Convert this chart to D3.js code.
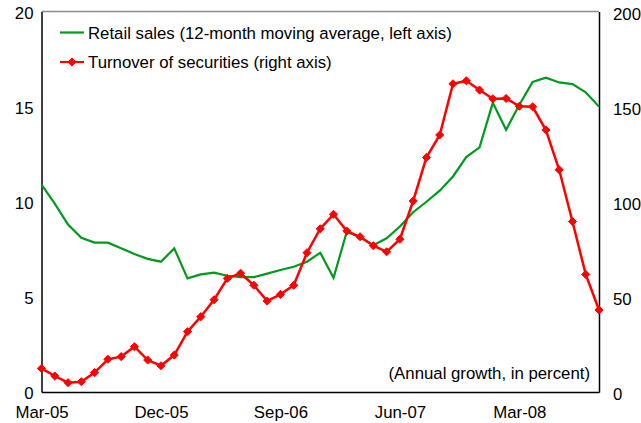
<!DOCTYPE html>
<html>
<head>
<meta charset="utf-8">
<script src="https://cdn.jsdelivr.net/npm/d3@7"></script>
<style>
  body { margin: 0; background: #fff; }
  svg text { font-family: "Liberation Sans", Arial, sans-serif; fill: #000; }
</style>
</head>
<body>
<div id="wrapper"></div>
<script>
// monthly categories, Mar-05 .. Sep-08
const months = [
  "Mar-05","Apr-05","May-05","Jun-05","Jul-05","Aug-05","Sep-05","Oct-05","Nov-05","Dec-05",
  "Jan-06","Feb-06","Mar-06","Apr-06","May-06","Jun-06","Jul-06","Aug-06","Sep-06","Oct-06",
  "Nov-06","Dec-06","Jan-07","Feb-07","Mar-07","Apr-07","May-07","Jun-07","Jul-07","Aug-07",
  "Sep-07","Oct-07","Nov-07","Dec-07","Jan-08","Feb-08","Mar-08","Apr-08","May-08","Jun-08",
  "Jul-08","Aug-08","Sep-08"
];
const xTickLabels = ["Mar-05","Dec-05","Sep-06","Jun-07","Mar-08"];

// retail sales, 12-month moving average (left axis)
const retailSales = [
  10.9, 9.9, 8.8, 8.1, 7.85, 7.85, 7.55, 7.25, 7.0, 6.85,
  7.55, 5.97, 6.18, 6.27, 6.11, 6.04, 6.04, 6.22, 6.41, 6.58,
  6.85, 7.32, 6.0, 8.42, 8.14, 7.72, 8.08, 8.7, 9.45, 10.0,
  10.58, 11.33, 12.35, 12.86, 15.2, 13.78, 15.1, 16.3, 16.52, 16.27,
  16.18, 15.75, 15.0
];
// turnover of securities (right axis)
const turnover = [
  12.4, 8.4, 4.9, 5.4, 10.2, 17.2, 18.6, 23.8, 16.8, 13.8,
  19.4, 31.7, 39.6, 48.5, 59.7, 62.4, 56.1, 47.8, 51.3, 56.1,
  73.2, 85.8, 93.4, 84.6, 81.6, 76.9, 73.7, 80.3, 100.4, 123.3,
  135.1, 162.0, 163.6, 158.7, 154.1, 154.3, 150.2, 149.9, 137.7, 116.8,
  89.6, 61.8, 43.1
];
const leftTicks = [0, 5, 10, 15, 20];
const rightTicks = [0, 50, 100, 150, 200];

const fontSize = "16.8px";

let dimensions = {
  width: 641,
  height: 423,
  margin: { top: 11.5, left: 41.5, bottom: 31, right: 42 }
};
dimensions.boundedWidth = dimensions.width - dimensions.margin.left - dimensions.margin.right;
dimensions.boundedHeight = dimensions.height - dimensions.margin.top - dimensions.margin.bottom;

const wrapper = d3.select("#wrapper").append("svg")
  .attr("width", dimensions.width)
  .attr("height", dimensions.height);
const container = wrapper.append("g")
  .attr("transform", `translate(${dimensions.margin.left},${dimensions.margin.top})`);

const xScale = d3.scaleLinear()
  .domain([0, months.length - 1])
  .range([0, dimensions.boundedWidth]);
const yLeft = d3.scaleLinear().domain([0, 20]).range([dimensions.boundedHeight, 0]);
const yRight = d3.scaleLinear().domain([0, 200]).range([dimensions.boundedHeight, 0]);

// frame: grey top, black sides and bottom
container.append("line")
  .attr("x1", 0).attr("x2", dimensions.boundedWidth)
  .attr("y1", 0).attr("y2", 0)
  .attr("stroke", "#8c8c8c").attr("stroke-width", 1.5);

const xAxisGen = d3.axisBottom(xScale)
  .tickValues(xTickLabels.map(l => months.indexOf(l)))
  .tickFormat(i => months[i])
  .tickSize(0).tickPadding(13);
const axisX = container.append("g")
  .attr("transform", `translate(0,${dimensions.boundedHeight})`)
  .call(xAxisGen);

const yAxisGen = d3.axisLeft(yLeft).tickValues(leftTicks).tickSize(0).tickPadding(8);
const axisY = container.append("g").call(yAxisGen);

const yAxisGenR = d3.axisRight(yRight).tickValues(rightTicks).tickSize(0).tickPadding(14);
const axisYR = container.append("g")
  .attr("transform", `translate(${dimensions.boundedWidth},0)`)
  .call(yAxisGenR);

[axisX, axisY, axisYR].forEach(a => {
  a.select(".domain").attr("stroke", "#000").attr("stroke-width", 1.5);
  a.selectAll("text").style("font-size", fontSize).attr("fill", "#000");
});
axisX.selectAll("text").attr("dy", "0.8em");
axisY.selectAll("text").attr("dy", "0.4em");
axisYR.selectAll("text").attr("dy", "0.45em");

// lines
const greenLine = d3.line()
  .x((d, i) => xScale(i))
  .y(d => yLeft(d));
const redLine = d3.line()
  .x((d, i) => xScale(i))
  .y(d => yRight(d));

container.append("path")
  .datum(retailSales)
  .attr("d", greenLine)
  .attr("fill", "none")
  .attr("stroke", "#009a1e")
  .attr("stroke-width", 2.2);

container.append("path")
  .datum(turnover)
  .attr("d", redLine)
  .attr("fill", "none")
  .attr("stroke", "#ff0000")
  .attr("stroke-width", 2.5);

const diamond = d3.symbol().type(d3.symbolDiamond2).size(42);
container.selectAll(".marker")
  .data(turnover)
  .enter()
  .append("path")
  .attr("class", "marker")
  .attr("d", diamond)
  .attr("transform", (d, i) => `translate(${xScale(i)},${yRight(d)})`)
  .attr("fill", "#ff0000")
  .attr("stroke", "#ff0000")
  .attr("stroke-width", 1);

// legend
const legend = wrapper.append("g");
legend.append("line")
  .attr("x1", 60).attr("x2", 84).attr("y1", 32.5).attr("y2", 32.5)
  .attr("stroke", "#009a1e").attr("stroke-width", 2.2);
legend.append("text")
  .attr("x", 88).attr("y", 32.5).attr("dy", "0.36em")
  .style("font-size", fontSize)
  .text("Retail sales (12-month moving average, left axis)");
legend.append("line")
  .attr("x1", 60).attr("x2", 84).attr("y1", 62).attr("y2", 62)
  .attr("stroke", "#ff0000").attr("stroke-width", 2.2);
legend.append("path")
  .attr("d", diamond)
  .attr("transform", "translate(72,62)")
  .attr("fill", "#ff0000").attr("stroke", "#ff0000");
legend.append("text")
  .attr("x", 88).attr("y", 62).attr("dy", "0.36em")
  .style("font-size", fontSize)
  .text("Turnover of securities (right axis)");

// note
wrapper.append("text")
  .attr("x", 590).attr("y", 373).attr("dy", "0.36em")
  .attr("text-anchor", "end")
  .style("font-size", fontSize)
  .text("(Annual growth, in percent)");
</script>
</body>
</html>
